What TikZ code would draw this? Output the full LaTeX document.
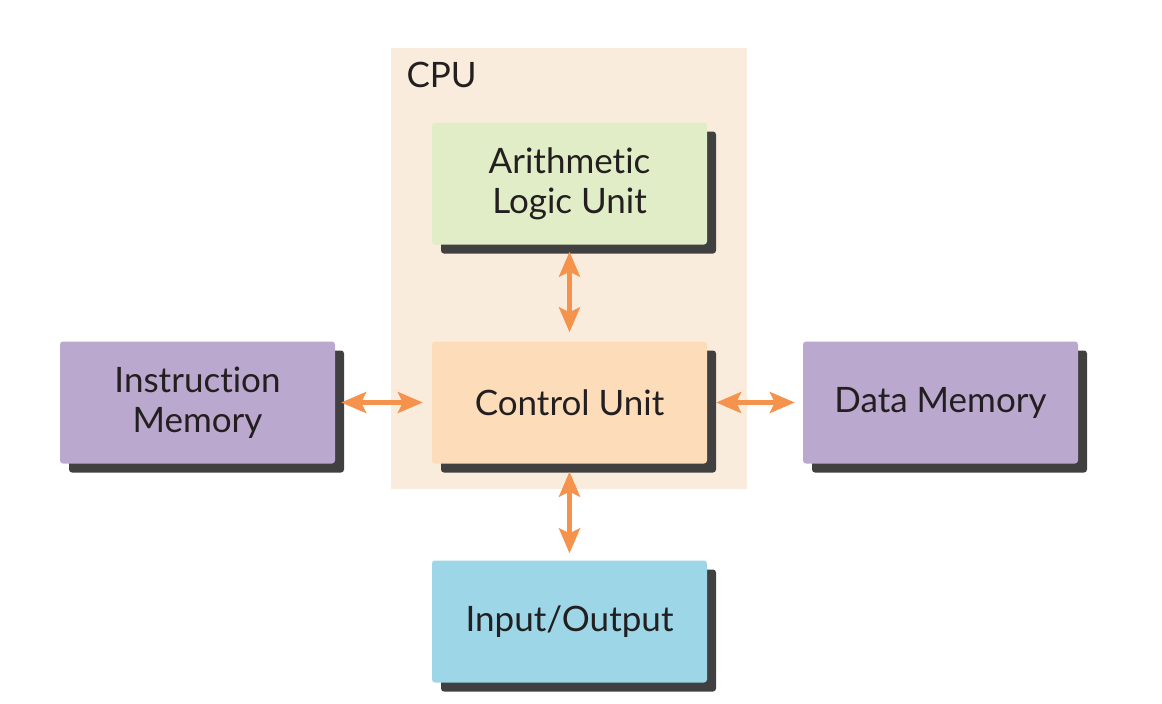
\documentclass[tikz,border=0pt]{standalone}
\usepackage{fontspec}
\setmainfont{Lato}[Ligatures=NoCommon]
\usetikzlibrary{arrows.meta,shadows}
\definecolor{cpubg}{RGB}{250,236,220}
\definecolor{alucol}{RGB}{224,237,198}
\definecolor{cucol}{RGB}{253,220,186}
\definecolor{memcol}{RGB}{187,168,207}
\definecolor{iocol}{RGB}{156,214,231}
\definecolor{shadowcol}{RGB}{64,64,64}
\definecolor{linkcol}{RGB}{245,146,75}
\definecolor{textcol}{RGB}{35,31,32}
\begin{document}
\begin{tikzpicture}[x=1pt,y=-1pt, line join=round,
    font=\fontsize{35}{40}\selectfont, text=textcol,
    unitbox/.style={rounded corners=3pt, minimum width=275pt, minimum height=122pt,
        align=center, inner sep=0pt,
        drop shadow={shadow xshift=9pt, shadow yshift=-9pt, opacity=1, fill=shadowcol}},
    link/.style={linkcol, line width=4.5pt, {Stealth[length=25pt,width=21pt,inset=5pt]}-{Stealth[length=25pt,width=21pt,inset=5pt]}}]
        \useasboundingbox (0,0) rectangle (1162,704);
        % CPU area
        \fill[cpubg] (391,48) rectangle (747,489);
        \node[anchor=base west] (cpu) at (403,87) {CPU};
        % units
        \node[unitbox, fill=alucol] (alu) at (569.5,183.5) {Arithmetic\\Logic Unit};
        \node[unitbox, fill=cucol] (cu) at (569.5,402.5) {Control Unit};
        \node[unitbox, fill=memcol] (imem) at (197.5,402.5) {Instruction\\Memory};
        \node[unitbox, fill=memcol] (dmem) at (940.5,402.5) {Data Memory};
        \node[unitbox, fill=iocol] (io) at (569.5,621.5) {Input/Output};
        % links
        \draw[link, shorten <=7pt, shorten >=9pt] (alu.south) -- (cu.north);
        \draw[link, shorten <=6pt, shorten >=9pt] (imem.east) -- (cu.west);
        \draw[link, shorten <=9pt, shorten >=8pt] (cu.east) -- (dmem.west);
        \draw[link, shorten <=8pt, shorten >=7pt] (cu.south) -- (io.north);
\end{tikzpicture}
\end{document}
